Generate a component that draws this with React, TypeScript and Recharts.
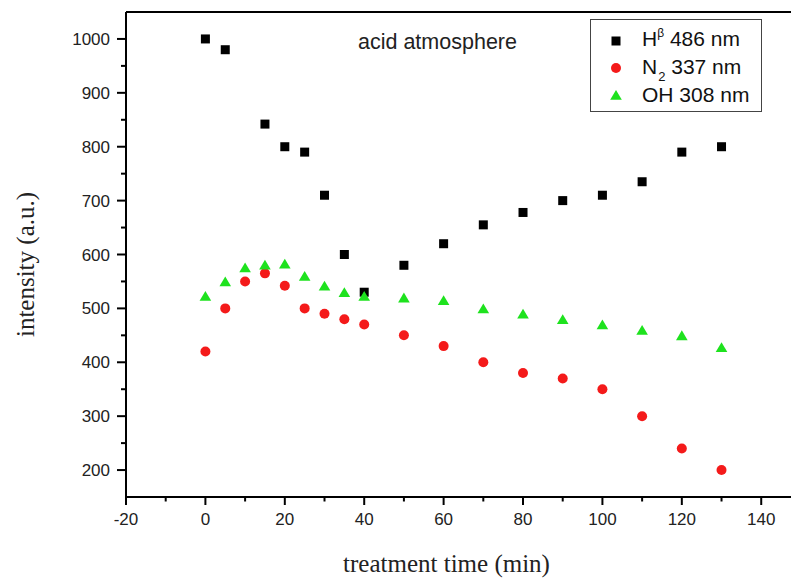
import React from 'react';
import { ScatterChart, Scatter, XAxis, YAxis, Legend, ReferenceLine, Label } from 'recharts';

// treatment time (min)
const hbTime = [0, 5, 15, 20, 25, 30, 35, 40, 50, 60, 70, 80, 90, 100, 110, 120, 130];
const time = [0, 5, 10, 15, 20, 25, 30, 35, 40, 50, 60, 70, 80, 90, 100, 110, 120, 130];

// intensity (a.u.)
const hbIntensity = [1000, 980, 842, 800, 790, 710, 600, 530, 580, 620, 655, 678, 700, 710, 735, 790, 800];
const n2Intensity = [420, 500, 550, 565, 542, 500, 490, 480, 470, 450, 430, 400, 380, 370, 350, 300, 240, 200];
const ohIntensity = [523, 550, 576, 581, 583, 560, 542, 530, 523, 520, 515, 500, 490, 480, 470, 460, 450, 428];

const xTicks = [-20, -10, 0, 10, 20, 30, 40, 50, 60, 70, 80, 90, 100, 110, 120, 130, 140];
const yTicks = [200, 250, 300, 350, 400, 450, 500, 550, 600, 650, 700, 750, 800, 850, 900, 950, 1000];

const SANS = '"Liberation Sans", Arial, sans-serif';
const SERIF = '"Liberation Serif", "Times New Roman", serif';

const BLACK = '#000000';
const RED = '#f41a1a';
const GREEN = '#1ee21e';

const toPoints = (xs: number[], ys: number[]) => xs.map((x, i) => ({ x, y: ys[i] }));

const hbData = toPoints(hbTime, hbIntensity);
const n2Data = toPoints(time, n2Intensity);
const ohData = toPoints(time, ohIntensity);

const SquareDot = (p: any) => <rect x={p.cx - 4.5} y={p.cy - 4.5} width={9} height={9} fill={BLACK} />;
const CircleDot = (p: any) => <circle cx={p.cx} cy={p.cy} r={5} fill={RED} />;
const TriangleDot = (p: any) => (
  <polygon
    points={`${p.cx},${p.cy - 5} ${p.cx - 5.8},${p.cy + 4.8} ${p.cx + 5.8},${p.cy + 4.8}`}
    fill={GREEN}
  />
);

const XTick = (props: any) => {
  const { x, y, payload } = props;
  const major = payload.value % 20 === 0;
  return (
    <g>
      <line x1={x} x2={x} y1={y} y2={y + (major ? 8 : 4.5)} stroke="#000" strokeWidth={2} />
      {major && (
        <text x={x} y={y + 28} textAnchor="middle" fontSize={17} fill="#222" fontFamily={SANS}>
          {payload.value}
        </text>
      )}
    </g>
  );
};

const YTick = (props: any) => {
  const { x, y, payload } = props;
  const major = payload.value % 100 === 0;
  return (
    <g>
      <line x1={x - (major ? 9 : 5)} x2={x} y1={y} y2={y} stroke="#000" strokeWidth={2} />
      {major && (
        <text x={x - 16} y={y + 6} textAnchor="end" fontSize={17} fill="#222" fontFamily={SANS}>
          {payload.value}
        </text>
      )}
    </g>
  );
};

const legendRows = [
  { key: 'hb', marker: 'square', label: <>H<span style={{ fontSize: 12, position: 'relative', top: -9 }}>β</span> 486 nm</> },
  { key: 'n2', marker: 'circle', label: <>N<span style={{ fontSize: 13, position: 'relative', top: 7, marginLeft: 1 }}>2</span> 337 nm</> },
  { key: 'oh', marker: 'triangle', label: <>OH 308 nm</> },
];

const LegendMarker = ({ kind }: { kind: string }) => (
  <svg width={20} height={20} style={{ display: 'block' }}>
    {kind === 'square' && <SquareDot cx={10} cy={10} />}
    {kind === 'circle' && <CircleDot cx={10} cy={10} />}
    {kind === 'triangle' && <TriangleDot cx={10} cy={10} />}
  </svg>
);

const renderLegend = () => (
  <div
    style={{
      boxSizing: 'border-box',
      width: 172,
      height: 93,
      border: '1.5px solid #444',
      background: '#fff',
      paddingTop: 7,
      fontFamily: SANS,
      fontSize: 21,
      color: '#111',
    }}
  >
    {legendRows.map(r => (
      <div key={r.key} style={{ display: 'flex', alignItems: 'center', height: 27, paddingLeft: 15 }}>
        <LegendMarker kind={r.marker} />
        <span style={{ marginLeft: 16, lineHeight: '27px', whiteSpace: 'nowrap' }}>{r.label}</span>
      </div>
    ))}
  </div>
);

export default function App() {
  return (
    <div style={{ position: 'absolute', left: 0, top: 0, width: 791, height: 578, background: '#fff' }}>
      <ScatterChart width={791} height={578} margin={{ top: 12, right: 0, bottom: 41, left: 66 }}>
        <XAxis
          type="number"
          dataKey="x"
          domain={[-20, 147.5]}
          allowDataOverflow
          ticks={xTicks}
          interval={0}
          tickSize={0}
          tickMargin={0}
          tickLine={false}
          tick={<XTick />}
          height={40}
          axisLine={{ stroke: '#000', strokeWidth: 2 }}
        >
          <Label
            content={(p: any) => {
              const vb = p.viewBox;
              return (
                <text x={vb.x + vb.width / 2 - 12} y={572} textAnchor="middle" fontSize={25} fill="#222" fontFamily={SERIF}>
                  treatment time (min)
                </text>
              );
            }}
          />
        </XAxis>
        <YAxis
          type="number"
          dataKey="y"
          domain={[150, 1050]}
          allowDataOverflow
          ticks={yTicks}
          interval={0}
          tickSize={0}
          tickMargin={0}
          tickLine={false}
          tick={<YTick />}
          width={60}
          axisLine={{ stroke: '#000', strokeWidth: 2 }}
        >
          <Label
            content={(p: any) => {
              const vb = p.viewBox;
              const cy = vb.y + vb.height / 2 + 10;
              return (
                <text
                  x={25}
                  y={cy}
                  transform={`rotate(-90 25 ${cy})`}
                  textAnchor="middle"
                  dominantBaseline="central"
                  fontSize={25}
                  fill="#222"
                  fontFamily={SERIF}
                >
                  intensity (a.u.)
                </text>
              );
            }}
          />
        </YAxis>
        <ReferenceLine y={1050} stroke="#000" strokeWidth={2} />
        <Legend
          layout="vertical"
          align="center"
          verticalAlign="middle"
          content={renderLegend}
          wrapperStyle={{ left: 590, top: 19, width: 172, height: 93 }}
        />
        <Scatter name="Hβ 486 nm" data={hbData} shape={SquareDot} isAnimationActive={false} />
        <Scatter name="N2 337 nm" data={n2Data} shape={CircleDot} isAnimationActive={false} />
        <Scatter name="OH 308 nm" data={ohData} shape={TriangleDot} isAnimationActive={false} />
      </ScatterChart>
      <div
        style={{
          position: 'absolute',
          left: 358,
          top: 32,
          fontFamily: SANS,
          fontSize: 21.5,
          lineHeight: '21.5px',
          color: '#222',
          whiteSpace: 'nowrap',
        }}
      >
        acid atmosphere
      </div>
    </div>
  );
}
